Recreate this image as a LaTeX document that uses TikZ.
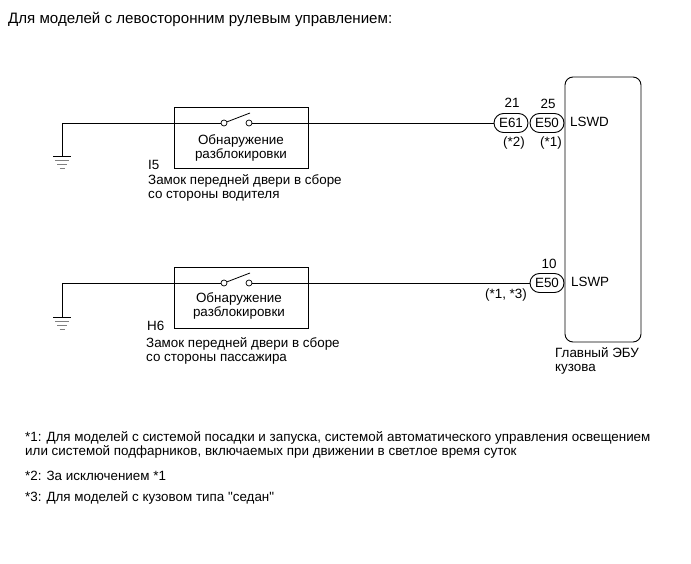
\documentclass[tikz,border=0pt]{standalone}
\usepackage{fontspec}
\setmainfont{Liberation Sans}
\newfontfamily\plainquote{Liberation Sans}
\usetikzlibrary{positioning,shapes.misc}
\tikzset{
  wire/.style={draw,line width=0.8pt},
  unitbox/.style={draw,line width=0.8pt,minimum width=134pt,inner sep=0pt},
  term/.style={circle,draw,line width=0.7pt,fill=white,minimum size=6pt,inner sep=0pt},
  conn/.style={rounded rectangle,draw,line width=0.9pt,fill=white,minimum width=34pt,minimum height=19pt,inner sep=0pt,font=\fontsize{13.4}{15}\selectfont},
  txt/.style={anchor=west,inner sep=0pt,align=left,font=\fontsize{13.4}{14.5}\selectfont},
  note/.style={anchor=west,inner sep=0pt,align=left,font=\fontsize{13.4}{14.5}\selectfont}
}
\begin{document}
\begin{tikzpicture}[x=1pt,y=-1pt]
  \useasboundingbox (0,0) rectangle (691,564);
  \fill[white] (0,0) rectangle (691,564);

  \node[txt,font=\fontsize{15.1}{17}\selectfont] (title) at (8,19) {Для моделей с левосторонним рулевым управлением:};

  % main unit
  \node[draw,line width=0.9pt,rounded corners=8pt,minimum width=76pt,minimum height=265pt,inner sep=0pt] (ecu) at (603,209.5) {};
  \node[txt] (lswd) at (570,122) {LSWD};
  \node[txt] (lswp) at (571,282) {LSWP};
  \node[txt] (ecuname) at (555,361) {Главный ЭБУ\\кузова};

  % upper circuit
  \node[unitbox,minimum height=61pt] (lockA) at (241,137.5) {};
  \node[term] (tAl) at (224,123) {};
  \node[term] (tAr) at (249,123) {};
  \coordinate (gndA) at (62,156);
  \coordinate (armA) at (250,113);
  \node[conn] (e61) at (511,123) {E61};
  \node[conn] (e50a) at (547,123) {E50};
  \draw[wire] (gndA) |- (tAl);
  \draw[wire] (tAr) -- (e61);
  \draw[wire] (tAl) -- (armA);
  \node[txt,anchor=center,align=center] (detA) at (241,148) {Обнаружение\\разблокировки};
  \node[txt] (idA) at (148,165) {I5};
  \node[txt] (nameA) at (148,188) {Замок передней двери в сборе\\со стороны водителя};
  \node[txt,anchor=center] (pin21) at (512,103) {21};
  \node[txt,anchor=center] (pin25) at (548,103.5) {25};
  \node[txt,anchor=center] (optA) at (514,143) {(*2)};
  \node[txt,anchor=center] (optB) at (551,143) {(*1)};

  % lower circuit
  \node[unitbox,minimum height=61pt] (lockB) at (241,297.5) {};
  \node[term] (tBl) at (224,283) {};
  \node[term] (tBr) at (249,283) {};
  \coordinate (gndB) at (62,317);
  \coordinate (armB) at (250,273);
  \node[conn] (e50b) at (547,283) {E50};
  \draw[wire] (gndB) |- (tBl);
  \draw[wire] (tBr) -- (e50b);
  \draw[wire] (tBl) -- (armB);
  \node[txt,anchor=center,align=center] (detB) at (239,306) {Обнаружение\\разблокировки};
  \node[txt] (idB) at (147,326) {H6};
  \node[txt] (nameB) at (146,351) {Замок передней двери в сборе\\со стороны пассажира};
  \node[txt,anchor=center] (pin10) at (549,264) {10};
  \node[txt,anchor=center] (optC) at (506,295) {(*1, *3)};

  % grounds
  \foreach \g in {gndA,gndB} {
    \draw[line width=0.8pt] ([xshift=-9pt]\g) -- ([xshift=9pt]\g);
    \draw[line width=0.5pt,gray] ([xshift=-7pt,yshift=-4pt]\g) -- ([xshift=7pt,yshift=-4pt]\g);
    \draw[line width=0.5pt,gray] ([xshift=-5pt,yshift=-8pt]\g) -- ([xshift=5pt,yshift=-8pt]\g);
    \draw[line width=0.5pt,gray] ([xshift=-2.5pt,yshift=-12pt]\g) -- ([xshift=2.5pt,yshift=-12pt]\g);
  }

  % notes
  \node[note] (noteA) at (25,445) {*1: Для моделей с системой посадки и запуска, системой автоматического управления освещением\\или системой подфарников, включаемых при движении в светлое время суток};
  \node[note] (noteB) at (25,476) {*2: За исключением *1};
  \node[note] (noteC) at (25,498) {*3: Для моделей с кузовом типа {\plainquote"}седан{\plainquote"}};
\end{tikzpicture}
\end{document}
